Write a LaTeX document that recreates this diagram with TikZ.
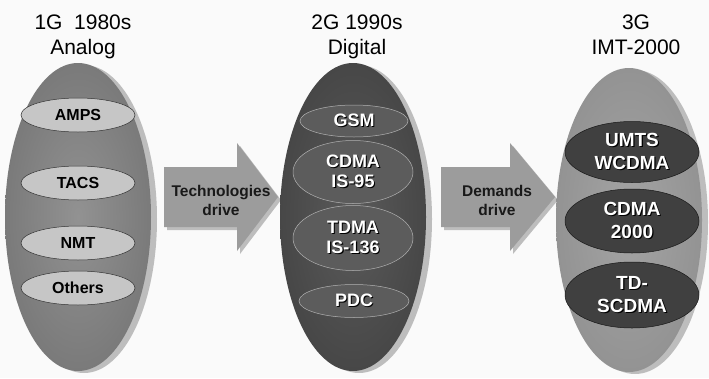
\documentclass[tikz,border=0pt]{standalone}
\usepackage{fontspec}
\setmainfont{Liberation Sans}
\usetikzlibrary{shapes.geometric,shadows}

\definecolor{bgcol}{HTML}{FAFAFA}
\definecolor{onegin}{HTML}{929292}
\definecolor{onegout}{HTML}{7A7A7A}
\definecolor{onegsub}{HTML}{C6C6C6}
\definecolor{twogin}{HTML}{5A5A5A}
\definecolor{twogout}{HTML}{474747}
\definecolor{twogsub}{HTML}{5C5C5C}
\definecolor{threegin}{HTML}{A4A4A4}
\definecolor{threegout}{HTML}{939393}
\definecolor{threegsub}{HTML}{404040}
\definecolor{arrowcol}{HTML}{9C9C9C}
\definecolor{shadecol}{HTML}{BDBDBD}

\newcommand{\shadetext}[1]{\makebox[0pt][l]{\hspace{1.2pt}\raisebox{-1.2pt}{\textcolor{black}{#1}}}#1}

\begin{document}
\begin{tikzpicture}[x=1pt, y=-1pt,
    title/.style={anchor=north, align=center, inner sep=0pt,
        font=\fontsize{21}{25}\selectfont},
    bigoval/.style={ellipse, minimum width=146pt, minimum height=308pt,
        shading=radial, drop shadow={shadow xshift=6pt, shadow yshift=-2pt,
        fill=shadecol, opacity=1}},
    subone/.style={ellipse, draw=black!80, line width=0.5pt, fill=onegsub,
        minimum width=114pt, minimum height=34pt, inner sep=0pt,
        font=\bfseries\fontsize{16}{19}\selectfont},
    subtwo/.style={ellipse, draw=black!30, line width=0.5pt, fill=twogsub,
        minimum width=120pt, inner sep=0pt, align=center, text=white,
        font=\bfseries\fontsize{18}{20}\selectfont},
    subthree/.style={ellipse, draw=black!90, line width=0.5pt, fill=threegsub,
        minimum width=134pt, minimum height=64pt, inner sep=0pt, align=center,
        text=white, font=\bfseries\fontsize{19}{23}\selectfont},
    arrowtext/.style={align=center, inner sep=0pt, text=black!90,
        font=\bfseries\fontsize{15.5}{19}\selectfont}]
    % ==== BACKGROUND ====
    \fill[bgcol] (0,0) rectangle (709,378);

    % ==== TITLES ====
    \node[title] (t1) at (83,15) {1G\ \ 1980s\\Analog};
    \node[title] (t2) at (357,15) {2G 1990s\\Digital};
    \node[title] (t3) at (636,15) {3G\\IMT-2000};

    % ==== ARROWS ====
    \fill[shadecol] (167,170) -- (240,170) -- (240,146) -- (281,200) -- (240,254) -- (240,230) -- (167,230) -- cycle;
    \fill[arrowcol] (164,167) -- (237,167) -- (237,143) -- (278,197) -- (237,251) -- (237,227) -- (164,227) -- cycle;
    \fill[shadecol] (444,170) -- (513,170) -- (513,146) -- (558,200) -- (513,254) -- (513,230) -- (444,230) -- cycle;
    \fill[arrowcol] (441,167) -- (510,167) -- (510,143) -- (555,197) -- (510,251) -- (510,227) -- (441,227) -- cycle;
    \node[arrowtext] (tech) at (221,200) {Technologies\\drive};
    \node[arrowtext] (dem) at (497,200) {Demands\\drive};

    % ==== 1G ====
    \node[bigoval, inner color=onegin, outer color=onegout] (g1) at (78,217) {};
    \node[subone] (amps) at (78,115) {AMPS};
    \node[subone] (tacs) at (78,183) {TACS};
    \node[subone] (nmt) at (78,243) {NMT};
    \node[subone] (oth) at (78,288) {Others};

    % ==== 2G ====
    \node[bigoval, inner color=twogin, outer color=twogout] (g2) at (353,217) {};
    \node[subtwo, minimum width=108pt, minimum height=32pt] (gsm) at (354,121) {\shadetext{GSM}};
    \node[subtwo, minimum height=63pt] (cdma) at (353,172) {\shadetext{CDMA}\\\shadetext{IS-95}};
    \node[subtwo, minimum height=65pt] (tdma) at (353,238) {\shadetext{TDMA}\\\shadetext{IS-136}};
    \node[subtwo, minimum width=110pt, minimum height=33pt] (pdc) at (354,301) {\shadetext{PDC}};

    % ==== 3G ====
    \node[bigoval, minimum height=304pt, inner color=threegin, outer color=threegout] (g3) at (629,220) {};
    \node[subthree, minimum height=61pt] (umts) at (632,152) {\shadetext{UMTS}\\\shadetext{WCDMA}};
    \node[subthree] (cdmak) at (632,221) {\shadetext{CDMA}\\\shadetext{2000}};
    \node[subthree, minimum height=66pt] (tds) at (632,295) {\shadetext{TD-}\\\shadetext{SCDMA}};
\end{tikzpicture}
\end{document}
